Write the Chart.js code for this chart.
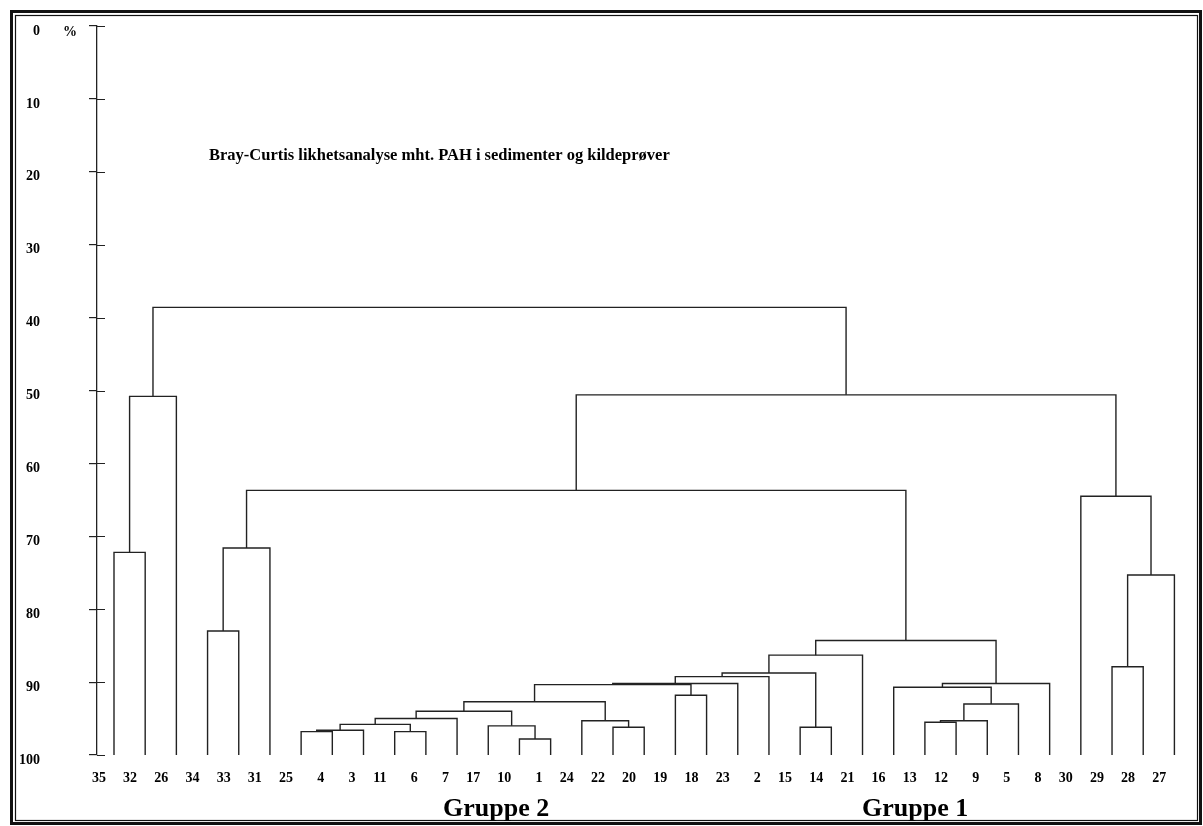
<!DOCTYPE html>
<html>
<head>
<meta charset="utf-8">
<script src="https://cdn.jsdelivr.net/npm/chart.js@4.4.1/dist/chart.umd.min.js"></script>
<style>
    body { margin: 0; background: #fff; }
    #dendro { display: block; }
</style>
</head>
<body>
<canvas id="dendro" width="1203" height="826"></canvas>
<script>
// leaf labels in drawing order (left to right)
const leafLabels = ['35', '32', '26', '34', '33', '31', '25', '4', '3', '11', '6', '7', '17', '10', '1', '24', '22', '20',
    '19', '18', '23', '2', '15', '14', '21', '16', '13', '12', '9', '5', '8', '30', '29', '28', '27'];

// linkage: ids 0..34 are leaves, 35+ are the merges below in order
const mergeLeft = [0, 35, 3, 37, 6, 39, 9, 40, 42, 13, 12, 43, 16, 15, 46, 18, 49, 51, 52, 22, 53, 55, 26, 57, 58, 25, 60, 56, 38, 32, 64, 31, 63, 36];
const mergeRight = [1, 2, 4, 5, 7, 8, 10, 41, 11, 14, 44, 45, 17, 47, 48, 19, 50, 20, 21, 23, 54, 24, 27, 28, 29, 59, 30, 61, 62, 33, 34, 65, 66, 67];
const mergeLevel = [72.2, 50.8, 83.0, 71.6, 96.8, 96.6, 96.8, 95.8, 95.0, 97.8, 96.0, 94.0, 96.2, 95.3, 92.7, 91.8, 90.35, 90.2, 89.25, 96.2,
    88.75, 86.3, 95.5, 95.3, 93.0, 90.7, 90.2, 84.3, 63.7, 87.9, 75.3, 64.5, 50.6, 38.6];

const yTicks = [0, 10, 20, 30, 40, 50, 60, 70, 80, 90, 100];

const SERIF = '"Liberation Serif", "Times New Roman", serif';
const INK = '#222';

function buildBranches() {
    const n = leafLabels.length;
    const pos = [];
    const height = [];
    for (let i = 0; i < n; i++) {
        pos.push(i);
        height.push(100);
    }
    const datasets = [];
    mergeLevel.forEach((level, i) => {
        const a = mergeLeft[i];
        const b = mergeRight[i];
        datasets.push({
            data: [
                { x: pos[a], y: height[a] },
                { x: pos[a], y: level },
                { x: pos[b], y: level },
                { x: pos[b], y: height[b] },
            ],
            showLine: true,
            borderColor: INK,
            borderWidth: 1.4,
            pointRadius: 0,
            tension: 0,
        });
        pos.push((pos[a] + pos[b]) / 2);
        height.push(level);
    });
    return datasets;
}

// frame, tick crosses and free text
const decorPlugin = {
    id: 'decor',
    beforeDraw(chart) {
        const ctx = chart.ctx;
        ctx.save();
        ctx.fillStyle = '#fff';
        ctx.fillRect(0, 0, chart.width, chart.height);
        ctx.strokeStyle = '#111';
        ctx.lineWidth = 3;
        ctx.strokeRect(11.5, 11.5, 1189, 812);
        ctx.lineWidth = 1.2;
        ctx.strokeRect(15.5, 15.5, 1182, 805);
        ctx.restore();
    },
    afterDraw(chart) {
        const ctx = chart.ctx;
        const y = chart.scales.y;
        const left = chart.chartArea.left;
        ctx.save();
        ctx.strokeStyle = INK;
        ctx.lineWidth = 1.2;
        ctx.beginPath();
        y.ticks.forEach(t => {
            const py = Math.round(y.getPixelForValue(t.value)) + 0.5;
            ctx.moveTo(left, py);
            ctx.lineTo(left + 8, py);
        });
        ctx.stroke();

        ctx.fillStyle = '#000';
        ctx.textBaseline = 'alphabetic';
        ctx.textAlign = 'left';
        ctx.font = 'bold 14px ' + SERIF;
        ctx.fillText('%', 63, 36);
        ctx.font = 'bold 16.5px ' + SERIF;
        ctx.fillText('Bray-Curtis likhetsanalyse mht. PAH i sedimenter og kildeprøver', 209, 160);
        ctx.font = 'bold 26px ' + SERIF;
        ctx.fillText('Gruppe 2', 443, 816);
        ctx.fillText('Gruppe 1', 862, 816);
        ctx.restore();
    },
};

function renderDendrogram() {
    const dendroElm = document.getElementById('dendro');
    if (!dendroElm) return;
    const ctx = dendroElm.getContext('2d');
    new Chart(ctx, {
        type: 'scatter',
        data: { datasets: buildBranches() },
        options: {
            responsive: false,
            animation: false,
            devicePixelRatio: 1,
            layout: { padding: { top: 26, right: 13, left: 0, bottom: 0 } },
            plugins: {
                legend: { display: false },
                tooltip: { enabled: false },
            },
            scales: {
                x: {
                    type: 'linear',
                    min: -0.545,
                    max: 34.5,
                    afterBuildTicks: scale => {
                        scale.ticks = leafLabels.map((_, i) => ({ value: i - 0.26 }));
                    },
                    afterFit: scale => {
                        scale.height = 71;
                        scale.paddingLeft = 0;
                        scale.paddingRight = 0;
                    },
                    ticks: {
                        autoSkip: false,
                        maxRotation: 0,
                        minRotation: 0,
                        align: 'end',
                        padding: 15,
                        color: '#000',
                        font: { family: SERIF, size: 14, weight: 'bold' },
                        callback: (value, index) => leafLabels[index],
                    },
                    grid: { display: false, drawTicks: false },
                    border: { display: false },
                },
                y: {
                    type: 'linear',
                    reverse: true,
                    min: 0,
                    max: 100,
                    afterBuildTicks: scale => {
                        scale.ticks = yTicks.map(v => ({ value: v }));
                    },
                    afterFit: scale => {
                        scale.width = 97;
                        scale.paddingTop = 0;
                        scale.paddingBottom = 0;
                    },
                    ticks: {
                        padding: 49,
                        labelOffset: 5,
                        color: '#000',
                        font: { family: SERIF, size: 14, weight: 'bold' },
                    },
                    grid: {
                        drawOnChartArea: false,
                        drawTicks: true,
                        tickLength: 8,
                        color: INK,
                        lineWidth: 1.2,
                    },
                    border: { display: true, color: INK, width: 1.3 },
                },
            },
        },
        plugins: [decorPlugin],
    });
}

renderDendrogram();
</script>
</body>
</html>
